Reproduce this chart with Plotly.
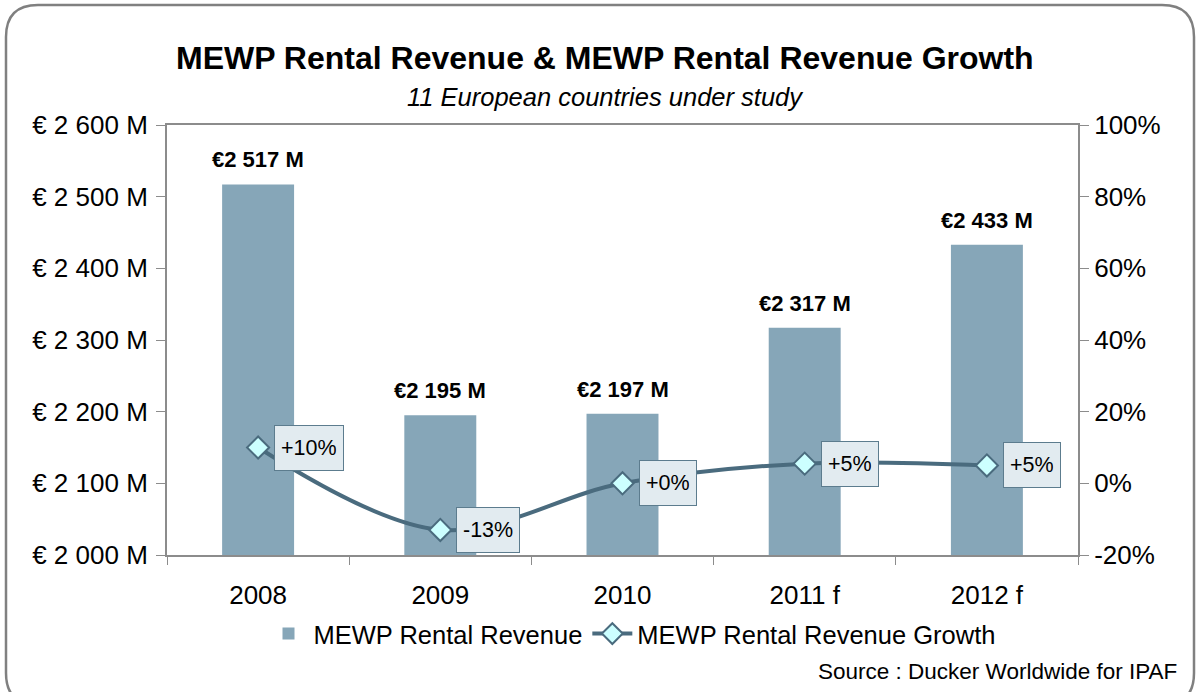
import plotly.graph_objects as go

categories = ["2008", "2009", "2010", "2011 f", "2012 f"]
revenue = [2517, 2195, 2197, 2317, 2433]
revenue_labels = ["€2 517 M", "€2 195 M", "€2 197 M", "€2 317 M", "€2 433 M"]
growth = [10, -13, 0, 5.5, 5]
growth_labels = ["+10%", "-13%", "+0%", "+5%", "+5%"]
left_ticks = [2000, 2100, 2200, 2300, 2400, 2500, 2600]
left_tick_text = ["€ 2 000 M", "€ 2 100 M", "€ 2 200 M", "€ 2 300 M", "€ 2 400 M", "€ 2 500 M", "€ 2 600 M"]
right_ticks = [-20, 0, 20, 40, 60, 80, 100]
right_tick_text = ["-20%", "0%", "20%", "40%", "60%", "80%", "100%"]

W, H = 1200, 692
L, R, T, B = 167, 122, 125, 137
PW, PH = W - L - R, H - T - B

def px(x):
    return (x - L) / PW

def py(y):
    return 1 - (y - T) / PH

FONT = "Liberation Sans, Arial, sans-serif"
BAR = "#86a6b8"
LINE = "#4a6b7e"
AXIS = "#8c8c8c"

fig = go.Figure()
fig.add_trace(go.Bar(
    x=categories, y=revenue, name="MEWP Rental Revenue",
    marker=dict(color=BAR, line=dict(width=0)),
))
fig.add_trace(go.Scatter(
    x=categories, y=growth, name="MEWP Rental Revenue Growth", yaxis="y2",
    mode="lines+markers",
    line=dict(color=LINE, width=4, shape="spline", smoothing=1.0),
    marker=dict(symbol="diamond", size=17, color="#ccffff", line=dict(color=LINE, width=2)),
))

for i, (v, t) in enumerate(zip(revenue, revenue_labels)):
    fig.add_annotation(
        x=i, y=v, xref="x", yref="y", text=f"<b>{t}</b>", showarrow=False,
        xanchor="center", yanchor="bottom", yshift=10,
        font=dict(family=FONT, size=22, color="black"),
    )

for i, (g, t) in enumerate(zip(growth, growth_labels)):
    fig.add_annotation(
        x=i, y=g, xref="x", yref="y2", text=t, showarrow=False,
        xanchor="left", yanchor="middle", xshift=16,
        font=dict(family=FONT, size=21.5, color="black"),
        bgcolor="#e2ebf0", bordercolor="#5c7c8e", borderwidth=1, borderpad=6,
        height=32,
    )

# Title, subtitle, source
fig.add_annotation(x=px(605), y=py(58), xref="paper", yref="paper", showarrow=False,
                   text="<b>MEWP Rental Revenue & MEWP Rental Revenue Growth</b>",
                   font=dict(family=FONT, size=32, color="black"), xanchor="center", yanchor="middle")
fig.add_annotation(x=px(605), y=py(97), xref="paper", yref="paper", showarrow=False,
                   text="<i>11 European countries under study</i>",
                   font=dict(family=FONT, size=25.5, color="black"), xanchor="center", yanchor="middle")
fig.add_annotation(x=px(1179), y=py(671), xref="paper", yref="paper", showarrow=False,
                   text="Source : Ducker Worldwide for IPAF",
                   font=dict(family=FONT, size=22.5, color="black"), xanchor="right", yanchor="middle")

# Rounded outer border
x0, x1, y0, y1, r = 6, 1194, 5, 705, 32
path = (f"M {px(x0 + r)},{py(y0)} L {px(x1 - r)},{py(y0)} "
        f"Q {px(x1)},{py(y0)} {px(x1)},{py(y0 + r)} "
        f"L {px(x1)},{py(y1 - r)} Q {px(x1)},{py(y1)} {px(x1 - r)},{py(y1)} "
        f"L {px(x0 + r)},{py(y1)} Q {px(x0)},{py(y1)} {px(x0)},{py(y1 - r)} "
        f"L {px(x0)},{py(y0 + r)} Q {px(x0)},{py(y0)} {px(x0 + r)},{py(y0)} Z")
fig.add_shape(type="path", path=path, xref="paper", yref="paper",
              line=dict(color="#808080", width=2.5), layer="above")

fig.update_layout(
    width=W, height=H,
    margin=dict(l=L, r=R, t=T, b=B, autoexpand=False),
    paper_bgcolor="white", plot_bgcolor="white",
    bargap=0.605,
    showlegend=True,
    legend=dict(orientation="h", x=px(632), y=py(634), xanchor="center", yanchor="middle",
                font=dict(family=FONT, size=25.5, color="black"),
                bgcolor="rgba(0,0,0,0)", itemwidth=40),
    font=dict(family=FONT, color="black"),
    xaxis=dict(
        type="category", range=[-0.5, len(categories) - 0.5],
        showgrid=False, showline=True, linecolor=AXIS, linewidth=2,
        mirror=True, ticks="outside", tickson="boundaries", ticklen=8, tickcolor=AXIS,
        tickfont=dict(family=FONT, size=26, color="black"), zeroline=False, tickangle=0,
        ticklabelstandoff=16,
    ),
    yaxis=dict(
        range=[2000, 2600], tickvals=left_ticks, ticktext=left_tick_text,
        showgrid=False, showline=True, linecolor=AXIS, linewidth=2,
        ticks="outside", ticklen=9, tickcolor=AXIS,
        tickfont=dict(family=FONT, size=26, color="black"), zeroline=False,
        ticklabelstandoff=3,
    ),
    yaxis2=dict(
        range=[-20, 100], tickvals=right_ticks, ticktext=right_tick_text,
        overlaying="y", side="right",
        showgrid=False, showline=True, linecolor=AXIS, linewidth=2,
        ticks="outside", ticklen=9, tickcolor=AXIS,
        tickfont=dict(family=FONT, size=26, color="black"), zeroline=False,
    ),
)

fig.write_html("out.html", config={"displayModeBar": False},
               post_script="document.body.style.margin='0px';")
